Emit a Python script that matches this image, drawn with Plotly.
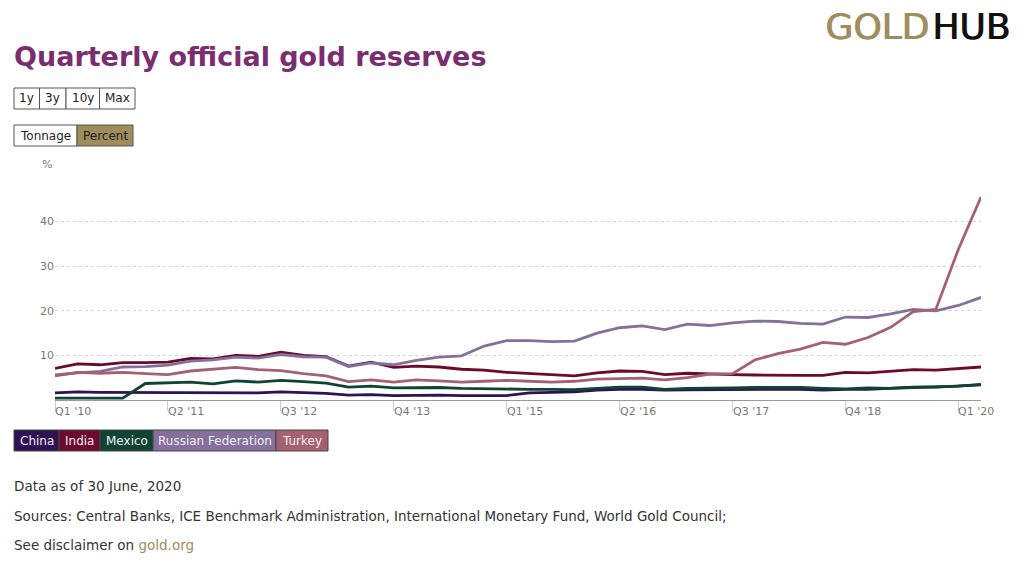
import plotly.graph_objects as go

# Data, Q1 '10 to Q2 '20 (percent of reserves)
quarters = [f"Q{q} '{y}" for y in range(10, 21) for q in (1, 2, 3, 4)][:42]
tick_labels = ["Q1 '10", "Q2 '11", "Q3 '12", "Q4 '13", "Q1 '15", "Q2 '16", "Q3 '17", "Q4 '18", "Q1 '20"]

china = [1.6, 1.8, 1.7, 1.7, 1.6, 1.6, 1.7, 1.6, 1.7, 1.6, 1.8, 1.7, 1.5, 1.1, 1.2, 1.0, 1.1, 1.1, 1.0, 1.0, 1.0,
         1.6, 1.7, 1.8, 2.2, 2.4, 2.4, 2.2, 2.3, 2.3, 2.3, 2.4, 2.4, 2.4, 2.2, 2.4, 2.4, 2.7, 2.9, 2.9, 3.2, 3.4]
india = [7.1, 8.1, 7.9, 8.4, 8.4, 8.5, 9.3, 9.2, 10.0, 9.8, 10.7, 10.0, 9.7, 7.6, 8.5, 7.3, 7.6, 7.4, 6.9, 6.7, 6.2,
         5.9, 5.7, 5.4, 6.1, 6.5, 6.4, 5.7, 6.0, 5.8, 5.7, 5.6, 5.5, 5.5, 5.5, 6.2, 6.1, 6.4, 6.8, 6.7, 7.0, 7.4]
mexico = [0.4, 0.4, 0.4, 0.4, 3.7, 3.9, 4.0, 3.6, 4.3, 4.0, 4.4, 4.1, 3.8, 2.9, 3.1, 2.7, 2.8, 2.8, 2.6, 2.5, 2.4,
          2.4, 2.4, 2.3, 2.6, 2.9, 2.9, 2.4, 2.6, 2.6, 2.7, 2.8, 2.8, 2.8, 2.6, 2.5, 2.7, 2.6, 2.8, 3.0, 3.1, 3.5]
russia = [5.6, 6.1, 6.4, 7.4, 7.5, 7.8, 8.7, 9.0, 9.6, 9.4, 10.2, 9.7, 9.6, 7.5, 8.3, 7.9, 8.9, 9.6, 9.9, 12.1, 13.3,
          13.3, 13.1, 13.2, 15.0, 16.2, 16.6, 15.8, 17.0, 16.7, 17.3, 17.7, 17.6, 17.2, 17.0, 18.6, 18.5, 19.3, 20.3, 20.0, 21.2, 23.0]
turkey = [5.4, 6.2, 6.0, 6.2, 5.9, 5.7, 6.5, 6.9, 7.3, 6.8, 6.6, 5.9, 5.4, 4.1, 4.5, 4.0, 4.5, 4.3, 4.0, 4.2, 4.4,
          4.2, 4.0, 4.2, 4.7, 4.8, 4.9, 4.5, 5.0, 5.8, 5.9, 9.0, 10.4, 11.4, 12.9, 12.5, 14.0, 16.3, 19.8, 20.3, 33.8, 45.5]

series_names = ["China", "India", "Mexico", "Russian Federation", "Turkey"]
series_values = [china, india, mexico, russia, turkey]
series_colors = ["#2f1254", "#6b0a2c", "#0f4434", "#85709b", "#a4616f"]

W, H = 1024, 567
GOLD = "#a08d5e"
FONT = "DejaVu Sans"


# pixel position helpers, paper coords cover the whole page
def px(x):
    return x / W


def py(y):
    return 1 - y / H


fig = go.Figure()
for name, vals, col in zip(series_names, series_values, series_colors):
    fig.add_trace(go.Scatter(x=quarters, y=vals, name=name, mode="lines",
                             line=dict(color=col, width=2.8), showlegend=False))

shapes = []
annots = []


def text(x, y, s, size=13.5, color="#333333", anchor="left", bold=False):
    # annotations carry about 2px of padding on the left
    annots.append(dict(xref="paper", yref="paper", x=px(x), y=py(y), text=f"<b>{s}</b>" if bold else s,
                       showarrow=False, xanchor=anchor, yanchor="middle", xshift=-2 if anchor == "left" else 0,
                       font=dict(family=FONT, size=size, color=color)))


def button(x0, x1, y0, y1, s, fill="#ffffff", color="#222222", line="#555555"):
    shapes.append(dict(type="rect", xref="paper", yref="paper", x0=px(x0), x1=px(x1), y0=py(y0), y1=py(y1),
                       fillcolor=fill, line=dict(color=line, width=1)))
    text((x0 + x1) / 2, (y0 + y1) / 2, s, size=12, color=color, anchor="center")


# header, the logo text is thickened with a small text shadow
text(14, 56, "Quarterly official gold reserves", size=27, color="#7a2d6f", bold=True)
annots.append(dict(xref="paper", yref="paper", x=px(931), y=py(26), text="GOLD", showarrow=False,
                   xanchor="right", yanchor="middle",
                   font=dict(family=FONT, size=36, color=GOLD, shadow="1px 0 0 %s" % GOLD)))
annots.append(dict(xref="paper", yref="paper", x=px(930), y=py(26), text="HUB", showarrow=False,
                   xanchor="left", yanchor="middle",
                   font=dict(family=FONT, size=36, color="#111111", shadow="1px 0 0 #111111")))

# range and unit buttons
button(14, 39.5, 88, 109, "1y")
button(39.5, 66, 88, 109, "3y")
button(66, 99.5, 88, 109, "10y")
button(99.5, 135, 88, 109, "Max")
button(14, 77, 125, 146, "Tonnage")
button(77, 133, 125, 146, "Percent", fill=GOLD)

# legend boxes
legend_edges = [14, 59, 100, 153, 276, 328]
for i, name in enumerate(series_names):
    button(legend_edges[i], legend_edges[i + 1], 430, 451, name, fill=series_colors[i], color="#f2eef5", line="#444444")

# footer
text(14, 486, "Data as of 30 June, 2020")
text(14, 516, "Sources: Central Banks, ICE Benchmark Administration, International Monetary Fund, World Gold Council;")
text(14, 545, "See disclaimer on <span style='color:%s'>gold.org</span>" % GOLD)

# unit label and left aligned quarter labels
text(47, 165, "%", size=11, color="#777777", anchor="center")
for lab in tick_labels:
    annots.append(dict(xref="x", yref="paper", x=lab, y=py(411), text=lab, showarrow=False, xanchor="left",
                       yanchor="middle", xshift=-2, font=dict(family=FONT, size=11, color="#777777")))

fig.update_layout(
    width=W, height=H, margin=dict(l=0, r=0, t=0, b=0), paper_bgcolor="white", plot_bgcolor="white",
    font=dict(family=FONT), shapes=shapes, annotations=annots,
    xaxis=dict(domain=[px(55), px(981)], type="category", categoryorder="array", categoryarray=quarters,
               range=[0, 41], tickvals=tick_labels, ticktext=[""] * len(tick_labels), ticks="outside",
               ticklen=10, tickcolor="#cccccc", showgrid=False, showline=True, linecolor="#999999", linewidth=1),
    yaxis=dict(domain=[py(400), py(177)], range=[0, 50], tickvals=[10, 20, 30, 40, 50],
               ticktext=["10", "20", "30", "40", ""], ticks="", showline=False, zeroline=False,
               gridcolor="#d4d4d4", griddash="dot", gridwidth=1, tickfont=dict(size=11, color="#777777")),
)

fig.write_html("out.html", config={"displayModeBar": False}, post_script="document.body.style.margin='0';")
